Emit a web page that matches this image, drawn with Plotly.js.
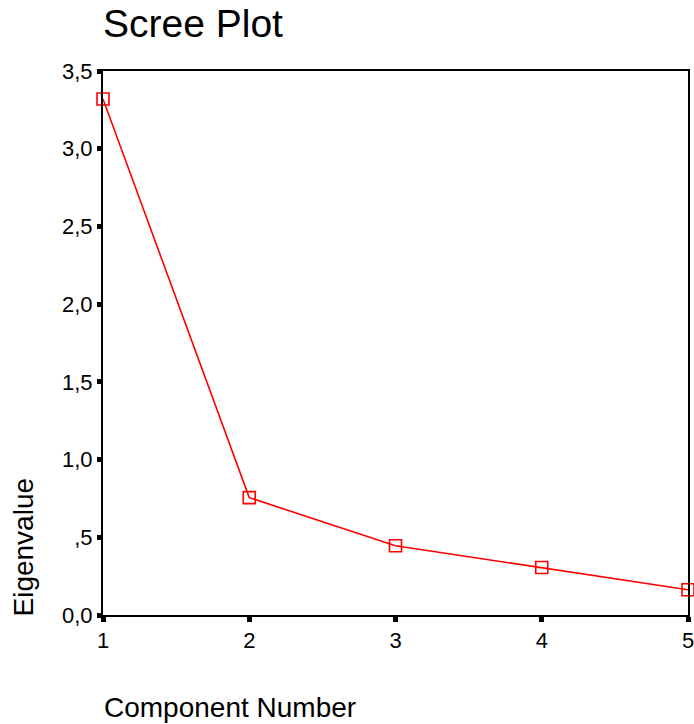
<!DOCTYPE html>
<html>
<head>
<meta charset="utf-8">
<script src="https://cdn.plot.ly/plotly-3.0.1.min.js"></script>
<style>html,body{margin:0;padding:0;background:#fff;}#chart{width:694px;height:724px;}</style>
</head>
<body>
<div id="chart"></div>
<script>
const components = [1, 2, 3, 4, 5];
const eigenvalues = [3.32, 0.755, 0.446, 0.306, 0.162];
const yTickVals = [0, 0.5, 1.0, 1.5, 2.0, 2.5, 3.0, 3.5];
const yTickText = ["0,0", ",5", "1,0", "1,5", "2,0", "2,5", "3,0", "3,5"];
const xTickVals = [1, 2, 3, 4, 5];
const xTickText = ["1", "2", "3", "4", "5"];

const font = "Liberation Sans, Arial, sans-serif";

const trace = {
  x: components,
  y: eigenvalues,
  type: "scatter",
  mode: "lines+markers",
  line: {color: "#ff0000", width: 1.6},
  marker: {symbol: "square-open", size: 12, color: "#ff0000", line: {width: 1.6, color: "#ff0000"}},
  cliponaxis: false,
  hoverinfo: "none"
};

const layout = {
  width: 694,
  height: 724,
  margin: {l: 103, r: 6, t: 71, b: 109},
  paper_bgcolor: "#fff",
  plot_bgcolor: "#fff",
  showlegend: false,
  font: {family: font, color: "#000", size: 22},
  title: {
    text: "Scree Plot",
    font: {family: font, size: 39, color: "#000"},
    x: 103/694, xref: "container", xanchor: "left",
    y: 1 - 23/724, yref: "container", yanchor: "middle"
  },
  xaxis: {
    range: [1, 5],
    tickvals: xTickVals,
    ticktext: xTickText,
    ticks: "outside", ticklen: 5, tickwidth: 5, tickcolor: "#000",
    showline: true, linecolor: "#000", linewidth: 2, mirror: true,
    showgrid: false, zeroline: false,
    ticklabeloverflow: "allow",
    tickfont: {family: font, size: 22, color: "#000"}
  },
  yaxis: {
    range: [0, 3.5],
    tickvals: yTickVals,
    ticktext: yTickText,
    ticks: "outside", ticklen: 4, tickwidth: 5, tickcolor: "#000",
    showline: true, linecolor: "#000", linewidth: 2, mirror: true,
    showgrid: false, zeroline: false,
    ticklabeloverflow: "allow",
    tickfont: {family: font, size: 22, color: "#000"}
  },
  annotations: [
    {
      text: "Eigenvalue", xref: "paper", yref: "paper",
      x: 0, y: 0, xanchor: "center", yanchor: "bottom",
      xshift: -80, yshift: -4, textangle: -90, showarrow: false,
      font: {family: font, size: 28, color: "#000"}
    },
    {
      text: "Component Number", xref: "paper", yref: "paper",
      x: 0, y: 0, xanchor: "left", yanchor: "middle",
      xshift: -1, yshift: -92, showarrow: false,
      font: {family: font, size: 28, color: "#000"}
    }
  ]
};

Plotly.newPlot("chart", [trace], layout, {displayModeBar: false, staticPlot: true});
</script>
</body>
</html>
